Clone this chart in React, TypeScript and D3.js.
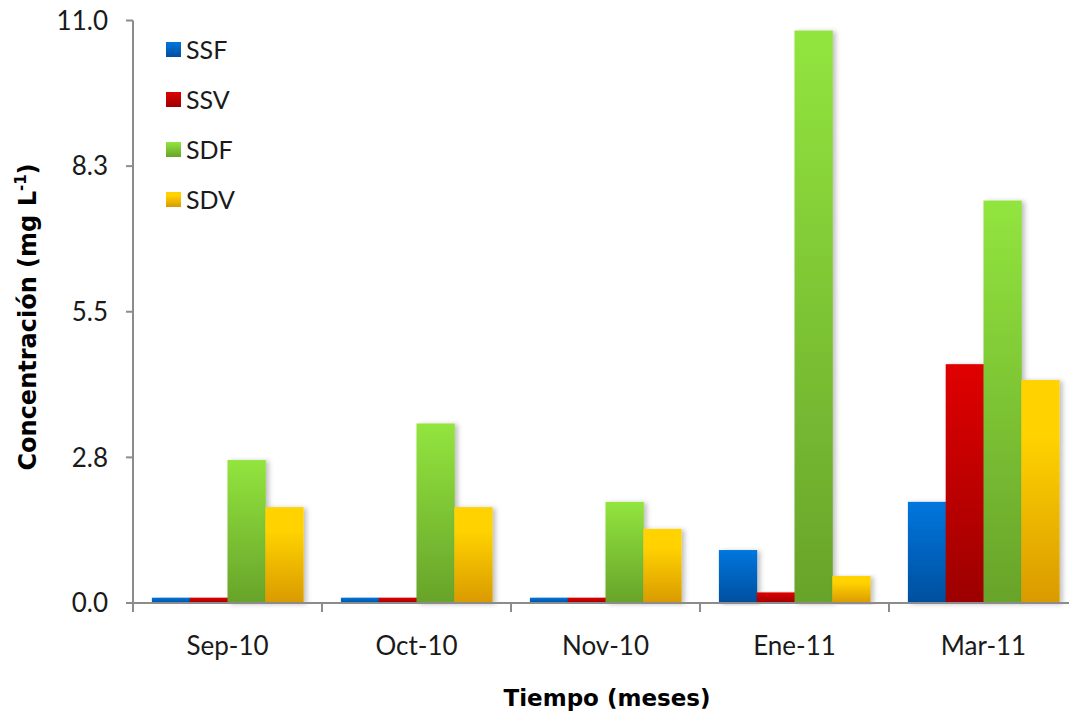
import React from "react";
import * as d3 from "d3";

const categories = ["Sep-10", "Oct-10", "Nov-10", "Ene-11", "Mar-11"];
const seriesNames = ["SSF", "SSV", "SDF", "SDV"];
const SSF = [0.1, 0.1, 0.1, 1.0, 1.91];
const SSV = [0.1, 0.1, 0.1, 0.2, 4.51];
const SDF = [2.7, 3.39, 1.91, 10.81, 7.6];
const SDV = [1.81, 1.81, 1.4, 0.51, 4.21];
const yTickValues = [0, 2.75, 5.5, 8.25, 11];
const xTitle = "Tiempo (meses)";
const yTitle = "Concentración (mg L";

const seriesValues = [SSF, SSV, SDF, SDV];
const gradStops: [string, string][] = [
  ["#0076de", "#004f9e"],
  ["#e00000", "#9c0000"],
  ["#92e53e", "#68a32a"],
  ["#ffd200", "#d99a00"],
];

const W = 1069;
const H = 717;
const left = 133;
const right = 1078;
const top = 20.5;
const bottom = 603;
const FONT = "Lato, 'Open Sans', sans-serif";
const TITLE_FONT = "'DejaVu Sans', Verdana, sans-serif";
const AXIS = "#8c8c8c";

export default function App() {
  const x0 = d3.scaleBand<string>().domain(categories).range([left, right]).padding(0);
  const bw = x0.bandwidth();
  const x1 = d3
    .scaleBand<string>()
    .domain(seriesNames)
    .range([bw * 0.1, bw * 0.9])
    .padding(0);
  const y = d3.scaleLinear().domain([0, 11]).range([bottom, top]);
  const fmt = d3.format(".1f");

  return (
    <svg
      width={W}
      height={H}
      style={{ position: "absolute", left: 0, top: 0, background: "#fff" }}
      fontFamily={FONT}
    >
      <defs>
        {gradStops.map((g, i) => (
          <linearGradient key={i} id={`g${i}`} x1="0" y1="0" x2="0" y2="1">
            <stop offset={i === 3 ? "0.25" : "0"} stopColor={g[0]} />
            <stop offset="1" stopColor={g[1]} />
          </linearGradient>
        ))}
        <filter id="sh" x="-20%" y="-5%" width="150%" height="110%">
          <feDropShadow dx="3" dy="1" stdDeviation="2.5" floodColor="#000" floodOpacity="0.25" />
        </filter>
      </defs>

      {/* bars */}
      {categories.map((c, ci) => (
        <g key={c} transform={`translate(${x0(c)},0)`}>
          {seriesNames.map((s, si) => {
            const v = seriesValues[si][ci];
            return (
              <rect
                key={s}
                x={x1(s)}
                y={y(v)}
                width={x1.bandwidth() + 0.5}
                height={bottom - y(v)}
                fill={`url(#g${si})`}
                filter="url(#sh)"
              />
            );
          })}
        </g>
      ))}

      {/* y axis */}
      <line x1={left} x2={left} y1={top} y2={bottom} stroke={AXIS} strokeWidth={2} />
      {yTickValues.map((t) => (
        <g key={t}>
          <line x1={left - 7} x2={left} y1={y(t)} y2={y(t)} stroke={AXIS} strokeWidth={2} />
          <text
            x={108}
            y={y(t)}
            dy="0.36em"
            textAnchor="end"
            fontSize={26}
            fill="#1a1a1a"
          >
            {fmt(t)}
          </text>
        </g>
      ))}

      {/* x axis */}
      <line x1={left} x2={right} y1={bottom} y2={bottom} stroke={AXIS} strokeWidth={2} />
      {[...categories.map((c) => x0(c) as number), right].map((px, i) => (
        <line key={i} x1={px} x2={px} y1={bottom} y2={bottom + 9} stroke={AXIS} strokeWidth={2} />
      ))}
      {categories.map((c) => (
        <text
          key={c}
          x={(x0(c) as number) + bw / 2}
          y={655}
          textAnchor="middle"
          fontSize={26}
          fill="#1a1a1a"
        >
          {c}
        </text>
      ))}

      {/* axis titles */}
      <text
        x={607}
        y={706}
        textAnchor="middle"
        fontSize={23}
        fontWeight="bold"
        fill="#000"
        fontFamily={TITLE_FONT}
      >
        {xTitle}
      </text>
      <text
        transform={`translate(36,317) rotate(-90)`}
        textAnchor="middle"
        fontSize={24}
        fontWeight="bold"
        fill="#000"
        fontFamily={TITLE_FONT}
      >
        {yTitle}
        <tspan fontSize={15} dy={-10}>-1</tspan>
        <tspan dy={10}>)</tspan>
      </text>

      {/* legend */}
      {seriesNames.map((s, i) => (
        <g key={s} transform={`translate(166,${42 + i * 50})`}>
          <rect width={15} height={15} fill={`url(#g${i})`} />
          <text x={20} y={7.5} dy="0.36em" fontSize={25} fill="#1a1a1a">
            {s}
          </text>
        </g>
      ))}
    </svg>
  );
}
